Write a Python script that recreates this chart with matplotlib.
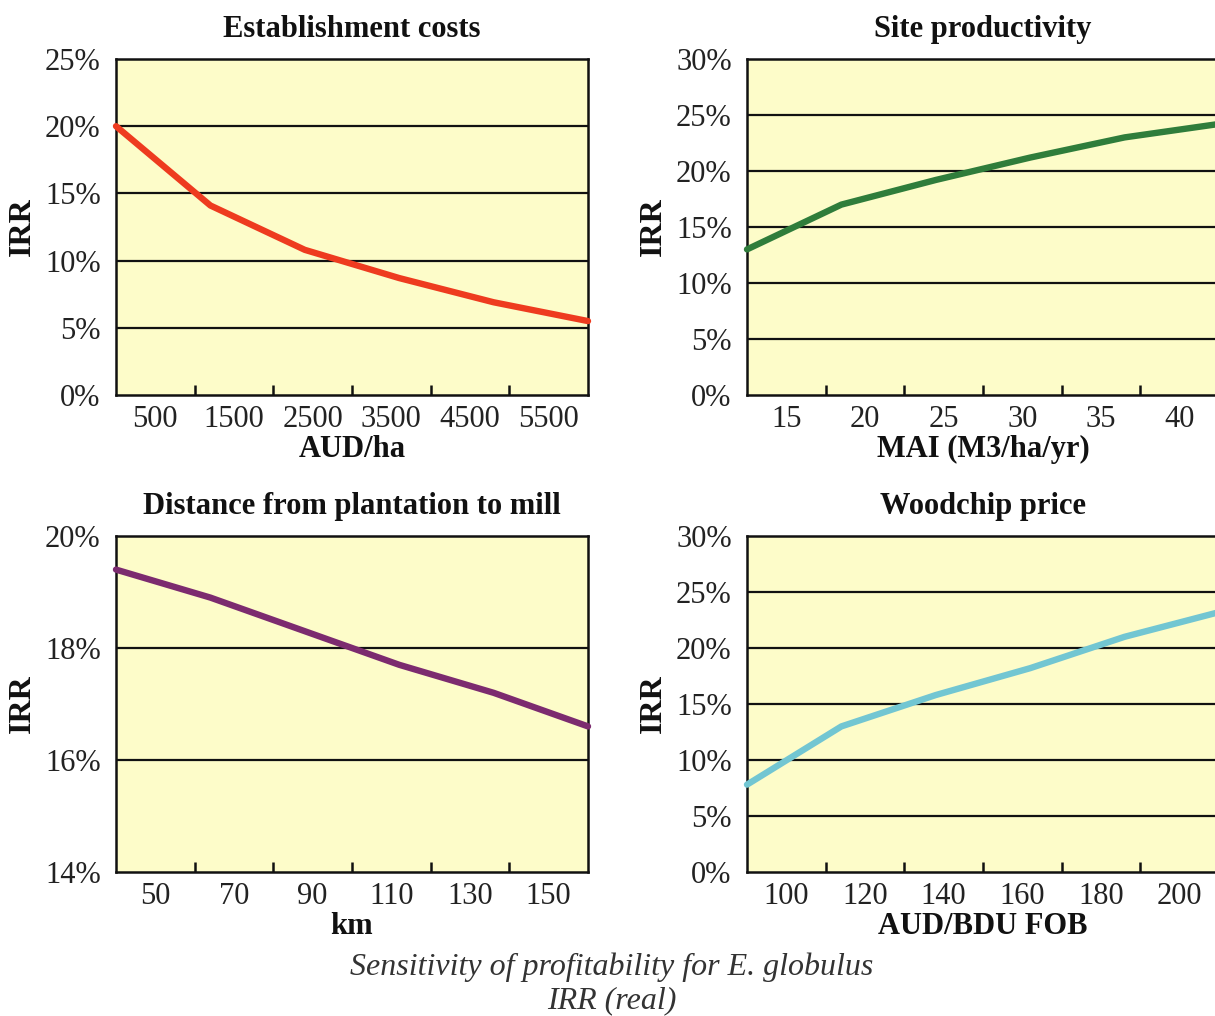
import numpy as np
import matplotlib
matplotlib.use("Agg")
import matplotlib.pyplot as plt
from matplotlib.ticker import FuncFormatter

plt.rcParams["font.family"] = ["Liberation Serif", "DejaVu Serif"]

# ---- data -------------------------------------------------------------
est_labels = ["500", "1500", "2500", "3500", "4500", "5500"]
est_irr = [20.0, 14.1, 10.8, 8.7, 6.9, 5.5]

mai_labels = ["15", "20", "25", "30", "35", "40"]
mai_irr = [13.0, 17.0, 19.2, 21.2, 23.0, 24.2]

dist_labels = ["50", "70", "90", "110", "130", "150"]
dist_irr = [19.4, 18.9, 18.3, 17.7, 17.2, 16.6]

chip_labels = ["100", "120", "140", "160", "180", "200"]
chip_irr = [7.8, 13.0, 15.8, 18.2, 21.0, 23.2]

panels = [
    dict(title="Establishment costs", xlabel="AUD/ha", labels=est_labels,
         values=est_irr, ylim=(0, 25), ystep=5, color="#ee3b1f"),
    dict(title="Site productivity", xlabel="MAI (M3/ha/yr)", labels=mai_labels,
         values=mai_irr, ylim=(0, 30), ystep=5, color="#2f7d3b"),
    dict(title="Distance from plantation to mill", xlabel="km", labels=dist_labels,
         values=dist_irr, ylim=(14, 20), ystep=2, color="#7c2b6f"),
    dict(title="Woodchip price", xlabel="AUD/BDU FOB", labels=chip_labels,
         values=chip_irr, ylim=(0, 30), ystep=5, color="#72c6d2"),
]

# ---- layout -----------------------------------------------------------
W, H = 1215, 1016
fig = plt.figure(figsize=(W / 100, H / 100), dpi=100)
fig.patch.set_facecolor("white")

ax_w, ax_h = 472, 336
lefts = [116, 747]
bottoms = [395, 872]
rects = [
    (lefts[0], bottoms[0]), (lefts[1], bottoms[0]),
    (lefts[0], bottoms[1]), (lefts[1], bottoms[1]),
]

pct = FuncFormatter(lambda v, _: f"{v:.0f}%")

for (lx, by), p in zip(rects, panels):
    ax = fig.add_axes([lx / W, (H - by) / H, ax_w / W, ax_h / H])
    ax.set_facecolor("#fdfcc9")

    n = len(p["labels"])
    x = np.arange(n)
    ax.set_xlim(0, n - 1)
    ax.set_ylim(*p["ylim"])

    # horizontal grid at each y step
    yt = np.arange(p["ylim"][0], p["ylim"][1] + 0.001, p["ystep"])
    ax.set_yticks(yt)
    ax.yaxis.set_major_formatter(pct)
    for yv in yt[1:-1]:
        ax.axhline(yv, color="#111111", lw=1.6, zorder=1)

    ax.plot(x, p["values"], color=p["color"], lw=4.6,
            solid_capstyle="round", zorder=3, clip_on=False)

    # category labels sit centred in equal bins, with small inward ticks at bin edges
    span = n - 1
    edges = np.linspace(0, span, n + 1)
    centers = (edges[:-1] + edges[1:]) / 2
    ax.set_xticks(edges[1:-1])
    ax.set_xticklabels([])
    ax.set_xticks(centers, minor=True)
    ax.set_xticklabels(p["labels"], minor=True)
    ax.tick_params(axis="x", which="major", direction="in", length=7,
                   width=1.8, color="#111111")
    ax.tick_params(axis="x", which="minor", length=0, pad=7, labelsize=22,
                   labelcolor="#222222")
    ax.tick_params(axis="y", length=0, pad=11, labelsize=22,
                   labelcolor="#222222")

    for s in ax.spines.values():
        s.set_linewidth(1.8)
        s.set_color("#111111")

    ax.set_title(p["title"], fontsize=22, fontweight="bold", pad=16,
                 color="#111111")
    ax.set_xlabel(p["xlabel"], fontsize=22, fontweight="bold", color="#111111")
    ax.xaxis.set_label_coords(0.5, -0.162)
    ax.xaxis.label.set_verticalalignment("center")
    ax.set_ylabel("IRR", fontsize=23, fontweight="bold", color="#111111")
    ax.yaxis.set_label_coords(-0.199, 0.5)
    ax.yaxis.label.set_verticalalignment("center")

fig.text(612 / W, 1 - 967 / H, "Sensitivity of profitability for E. globulus",
         ha="center", va="center", fontsize=23, style="italic", color="#333333")
fig.text(612 / W, 1 - 1001 / H, "IRR (real)",
         ha="center", va="center", fontsize=23, style="italic", color="#333333")

fig.savefig("out.png", dpi=100, facecolor="white")
